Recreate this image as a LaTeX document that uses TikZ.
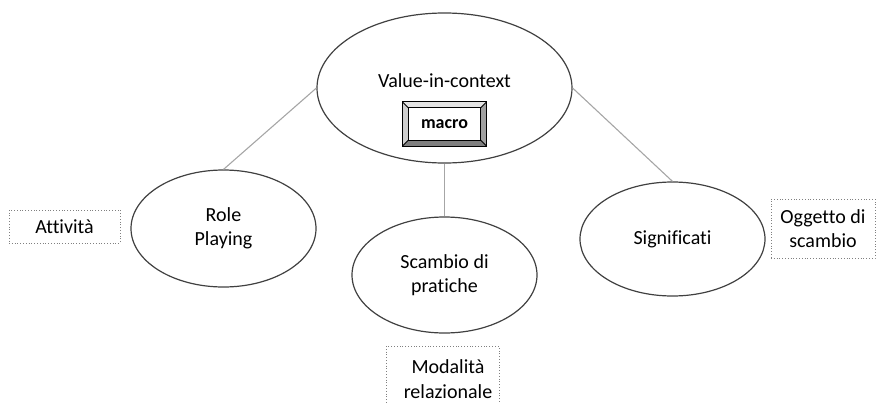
\documentclass[tikz,border=0pt]{standalone}
\usepackage{fontspec}
\setmainfont[Ligatures={NoCommon}]{Carlito}
\usetikzlibrary{shapes.geometric,calc}
\definecolor{ovalline}{HTML}{404040}
\definecolor{linkgray}{HTML}{A6A6A6}
\definecolor{dotgray}{HTML}{808080}
\definecolor{bevtop}{HTML}{E3E3E3}
\definecolor{bevleft}{HTML}{CFCFCF}
\definecolor{bevright}{HTML}{A0A0A0}
\definecolor{bevbottom}{HTML}{7F7F7F}
\tikzset{
  oval/.style={ellipse, draw=ovalline, line width=1.2pt, inner sep=0pt, align=center, font=\fontsize{20}{24.5}\selectfont},
  link/.style={draw=linkgray, line width=1.1pt},
  tag/.style={draw=dotgray, dotted, line width=0.8pt, inner sep=0pt, align=center, font=\fontsize{20}{24.5}\selectfont},
  txt/.style={inner sep=0pt, align=center, font=\fontsize{20}{24.5}\selectfont},
  bevedge/.style={draw=black, line width=0.8pt}
}
\begin{document}
\begin{tikzpicture}[x=1pt,y=-1pt]
\useasboundingbox (0,0) rectangle (876,402);
% ellipses
\node[oval, minimum width=255, minimum height=150] (top) at (444.5,88) {};
\node[txt] (toptext) at (444.5,81) {Value-in-context};
\node[oval, minimum width=185, minimum height=117] (left) at (223.5,228.5) {Role\\Playing};
\node[oval, minimum width=185, minimum height=116] (mid) at (444.5,275) {Scambio di\\pratiche};
\node[oval, minimum width=185, minimum height=114] (right) at (672.5,239) {Significati};
% connectors
\draw[link] (top.west) -- (left.north);
\draw[link] (top.south) -- (mid.north);
\draw[link] (top.east) -- (right.north);
% bevel button
\node[minimum width=84, minimum height=44, inner sep=0pt] (macro) at (444.5,124) {};
\coordinate (oNW) at (macro.north west);
\coordinate (oNE) at (macro.north east);
\coordinate (oSW) at (macro.south west);
\coordinate (oSE) at (macro.south east);
\coordinate (iNW) at ($(oNW)+(6,6)$);
\coordinate (iNE) at ($(oNE)+(-6,6)$);
\coordinate (iSW) at ($(oSW)+(6,-6)$);
\coordinate (iSE) at ($(oSE)+(-6,-6)$);
\fill[bevtop] (oNW) -- (oNE) -- (iNE) -- (iNW) -- cycle;
\fill[bevleft] (oNW) -- (iNW) -- (iSW) -- (oSW) -- cycle;
\fill[bevright] (oNE) -- (oSE) -- (iSE) -- (iNE) -- cycle;
\fill[bevbottom] (oSW) -- (iSW) -- (iSE) -- (oSE) -- cycle;
\fill[white] (iNW) rectangle (iSE);
\draw[bevedge] (oNW) rectangle (oSE);
\draw[bevedge] (iNW) rectangle (iSE);
\draw[bevedge] (oNW) -- (iNW) (oNE) -- (iNE) (oSW) -- (iSW) (oSE) -- (iSE);
\node[txt, font=\fontsize{18}{22}\selectfont\bfseries] (macrotext) at (444.5,124) {macro};
% dotted tags
\node[tag, minimum width=111, minimum height=33] (attivita) at (64.5,226.5) {Attività};
\node[tag, minimum width=104, minimum height=59] (oggetto) at (823,228.5) {Oggetto di\\scambio};
\node[draw=dotgray, dotted, line width=0.8pt, inner sep=0pt, minimum width=113, minimum height=74, anchor=north] (modbox) at (442.5,346) {};
\node[txt] (modalita) at (448,379) {Modalità\\relazionale};
\end{tikzpicture}
\end{document}
